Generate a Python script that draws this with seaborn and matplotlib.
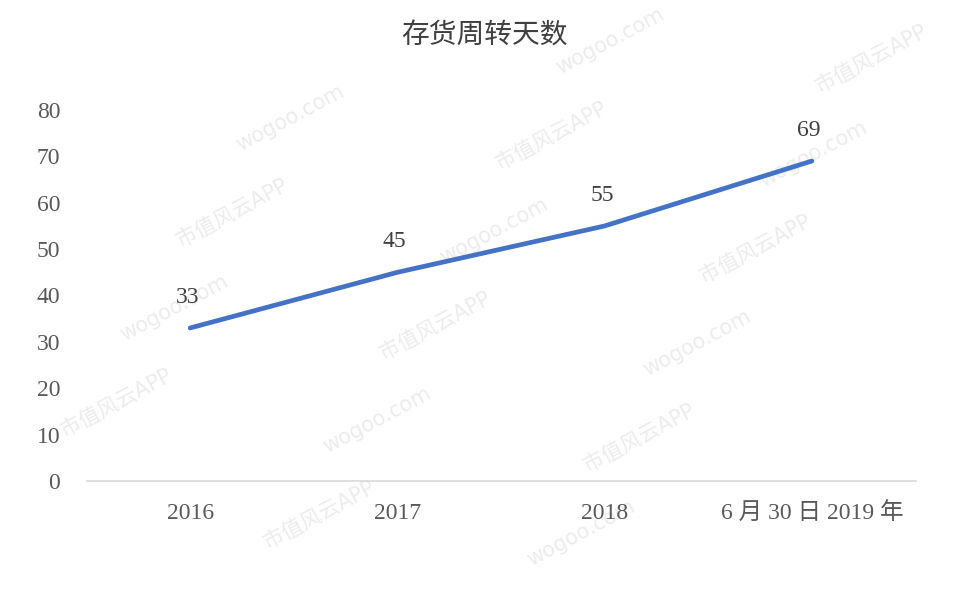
import numpy as np
import pandas as pd
import seaborn as sns
import matplotlib.pyplot as plt

periods = ["2016", "2017", "2018", "6月30日2019年"]
days = [33, 45, 55, 69]
tick_labels = ["2016", "2017", "2018", "6 月 30 日 2019 年"]

sns.set_style("white")
plt.rcParams['font.family'] = ['Liberation Serif', 'Noto Sans CJK SC', 'DejaVu Sans']

df = pd.DataFrame({"period": periods, "days": days})

fig = plt.figure(figsize=(9.68, 5.92), dpi=100)

# faint watermark behind the chart, kept inside the canvas
for i in range(-3, 9):
    for j in range(-2, 8):
        x = j * 0.27 + i * 0.06
        y = i * 0.16 - j * 0.03
        if not (0.09 < x < 0.91 and 0.07 < y < 0.93):
            continue
        txt = "市值风云APP" if (i + j) % 2 == 0 else "wogoo.com"
        fig.text(x, y, txt, rotation=28, fontsize=15, color="#ececec",
                 family=['DejaVu Sans', 'Noto Sans CJK SC'],
                 ha="center", va="center", zorder=-5)

ax = fig.add_axes([0.0894, 0.1875, 0.8564, 0.6267])
ax.set_zorder(2)
ax.patch.set_alpha(0)
sns.lineplot(data=df, x="period", y="days", ax=ax, color="#4472c4",
             linewidth=3.4, sort=False)

for xi, v in enumerate(days):
    ax.annotate(str(v), (xi, v), xytext=(-2, 22), textcoords="offset points",
                ha="center", va="center", fontsize=17, color="#404040")

ax.set_xlim(-0.5, 3.5)
ax.set_ylim(0, 80)
ax.set_yticks(range(0, 81, 10))
ax.set_xticks(range(len(periods)))
ax.set_xticklabels(tick_labels)
ax.tick_params(axis="both", length=0, labelsize=17, labelcolor="#595959")
ax.tick_params(axis="x", pad=16)
ax.tick_params(axis="y", pad=19)
ax.set_xlabel("")
ax.set_ylabel("")
for s in ["top", "right", "left"]:
    ax.spines[s].set_visible(False)
ax.spines["bottom"].set_color("#d9d9d9")
ax.spines["bottom"].set_linewidth(1.2)

fig.text(0.5, 0.94, "存货周转天数", ha="center", va="center", fontsize=20,
         color="#404040", family=['Noto Sans CJK SC', 'DejaVu Sans'])

fig.savefig("out.png", dpi=100)
